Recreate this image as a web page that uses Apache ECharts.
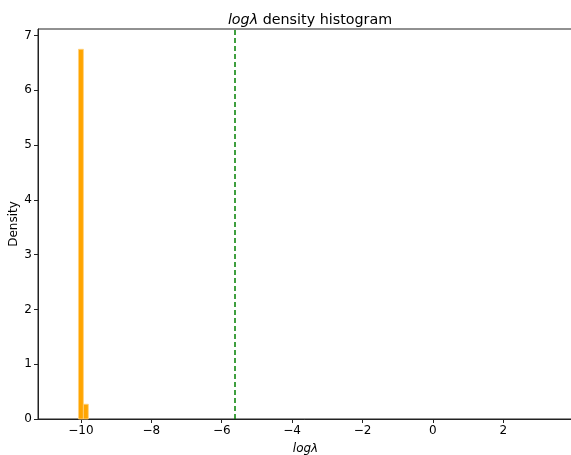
<!DOCTYPE html>
<html><head><meta charset="utf-8">
<script src="https://cdn.jsdelivr.net/npm/echarts@6/dist/echarts.min.js"></script>
<style>html,body{margin:0;padding:0;background:#fff}#c{width:571px;height:455px}</style>
</head><body><div id="c"></div>
<script>
var binEdges = [-10.07, -9.93, -9.79];
var densities = [6.75, 0.27];
var meanLine = -5.63;
var xTicks = [-10, -8, -6, -4, -2, 0, 2];
var yTicks = [0, 1, 2, 3, 4, 5, 6, 7];

var data = densities.map(function(d, i){ return [binEdges[i], binEdges[i+1], d]; });
var chart = echarts.init(document.getElementById('c'));
var font = 'DejaVu Sans';
chart.setOption({
  animation: false,
  title: {
    text: '{i|logλ} density histogram',
    left: 305, top: 8, textAlign: 'center',
    textStyle: {fontFamily: font, fontSize: 14.3, fontWeight: 'normal', color: '#000',
      rich: {i: {fontFamily: font, fontStyle: 'italic', fontSize: 14.3, color: '#000'}}}
  },
  grid: {left: 38, top: 29, right: -2, bottom: 36, show: true, borderColor: '#222', borderWidth: 1,
    outerBoundsMode: 'none', containLabel: false},
  xAxis: {
    type: 'value', min: -11.22, max: 3.98, interval: 2,
    name: 'logλ', nameLocation: 'middle', nameGap: 24, nameMoveOverlap: false,
    nameTextStyle: {fontFamily: font, fontStyle: 'italic', fontSize: 12, color: '#000'},
    axisLine: {show: true, onZero: false, lineStyle: {color: '#222'}},
    axisTick: {show: true, length: 4, lineStyle: {color: '#222'}, customValues: xTicks},
    axisLabel: {fontFamily: font, fontSize: 12, color: '#000', margin: 6,
      customValues: xTicks, formatter: function(v){ return String(v).replace('-', '\u2212'); }},
    splitLine: {show: false}
  },
  yAxis: {
    type: 'value', min: 0, max: 7.12, interval: 1,
    name: 'Density', nameLocation: 'middle', nameGap: 18, nameMoveOverlap: false,
    nameTextStyle: {fontFamily: font, fontSize: 12, color: '#000'},
    axisLine: {show: true, onZero: false, lineStyle: {color: '#222'}},
    axisTick: {show: true, length: 4, lineStyle: {color: '#222'}, customValues: yTicks},
    axisLabel: {fontFamily: font, fontSize: 12, color: '#000', margin: 6, customValues: yTicks},
    splitLine: {show: false}
  },
  series: [{
    type: 'custom',
    data: data,
    encode: {x: [0, 1], y: 2},
    renderItem: function(params, api){
      var p0 = api.coord([api.value(0), api.value(2)]);
      var p1 = api.coord([api.value(1), 0]);
      return {type: 'rect', shape: {x: p0[0], y: p0[1], width: p1[0]-p0[0], height: p1[1]-p0[1]},
        style: {fill: '#ffa500', stroke: '#ffd27f', lineWidth: 0.8}};
    },
    markLine: {
      silent: true, symbol: 'none', label: {show: false},
      lineStyle: {color: '#008000', type: [5, 3], width: 1.5},
      data: [{xAxis: meanLine}]
    }
  }]
});
</script></body></html>
